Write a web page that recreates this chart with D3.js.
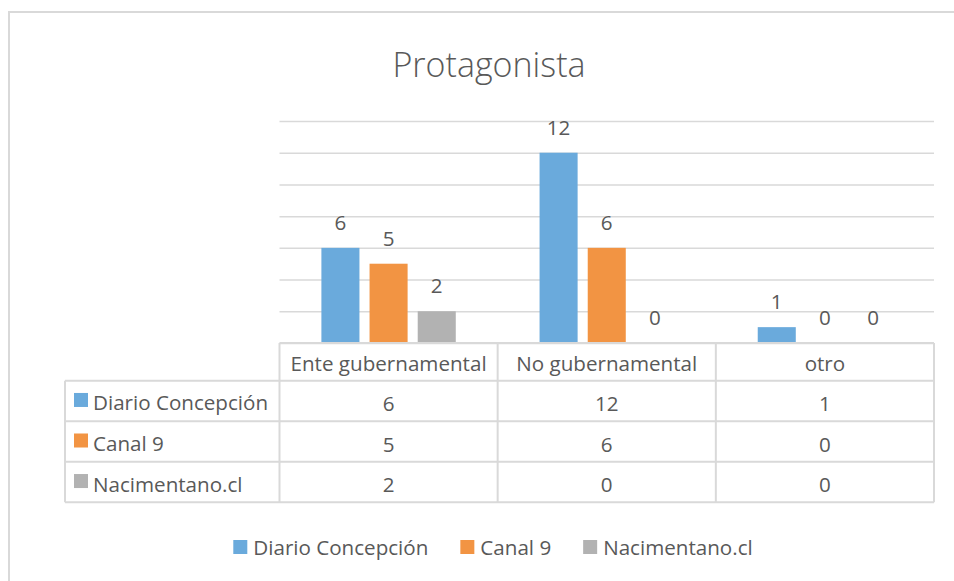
<!DOCTYPE html>
<html>
<head>
<meta charset="utf-8">
<script src="https://cdn.jsdelivr.net/npm/d3@7"></script>
<style>
  body { margin: 0; background: #fff; }
  svg { display: block; font-family: "Open Sans", "Noto Sans", sans-serif; }
</style>
</head>
<body>
<div id="chart"></div>
<script>
// data
const categories = ['Ente gubernamental', 'No gubernamental', 'otro'];
const seriesNames = ['Diario Concepción', 'Canal 9', 'Nacimentano.cl'];
const diarioConcepcion = [6, 12, 1];
const canal9 = [5, 6, 0];
const nacimentano = [2, 0, 0];
const seriesValues = [diarioConcepcion, canal9, nacimentano];
const colors = ['#6aaadc', '#f29443', '#b2b2b2'];
const yTicks = [0, 2, 4, 6, 8, 10, 12, 14];

const width = 954, height = 581;
const textColor = '#595959';
const lineColor = '#d9d9d9';
const fontSize = 20.6;

const svg = d3.select('#chart').append('svg')
    .attr('width', width)
    .attr('height', height);

// chart border (only top and left visible)
svg.append('rect')
    .attr('x', 9).attr('y', 12)
    .attr('width', 1000).attr('height', 700)
    .attr('fill', '#fff')
    .attr('stroke', lineColor)
    .attr('stroke-width', 2);

// title
svg.append('text')
    .attr('x', 489).attr('y', 77)
    .attr('text-anchor', 'middle')
    .attr('fill', textColor)
    .style('font-size', '34px')
    .style('font-weight', 300)
    .text('Protagonista');

// scales
const plot = {left: 279.5, right: 934, top: 121, bottom: 343};

const x0 = d3.scaleBand()
    .domain(categories)
    .range([plot.left, plot.right]);

const x1 = d3.scaleBand()
    .domain(seriesNames)
    .range([0, x0.bandwidth()])
    .paddingInner(0.21)
    .paddingOuter(0.87);

const y = d3.scaleLinear()
    .domain([0, 14])
    .range([plot.bottom, plot.top]);

// gridlines
const grid = svg.append('g')
    .attr('transform', `translate(${plot.left},0)`)
    .call(d3.axisLeft(y).tickValues(yTicks).tickSize(-(plot.right - plot.left)).tickFormat(''));
grid.select('.domain').remove();
grid.selectAll('.tick line')
    .attr('stroke', lineColor)
    .attr('stroke-width', 1.5);

// bars
const groups = svg.append('g').selectAll('g')
    .data(categories)
    .join('g')
    .attr('transform', d => `translate(${x0(d)},0)`);

groups.selectAll('rect')
    .data((c, ci) => seriesNames.map((s, si) => ({s, si, v: seriesValues[si][ci]})))
    .join('rect')
    .attr('x', d => x1(d.s))
    .attr('width', x1.bandwidth())
    .attr('y', d => y(d.v))
    .attr('height', d => y(0) - y(d.v))
    .attr('fill', d => colors[d.si]);

// data labels
groups.selectAll('text')
    .data((c, ci) => seriesNames.map((s, si) => ({s, si, v: seriesValues[si][ci]})))
    .join('text')
    .attr('x', d => x1(d.s) + x1.bandwidth() / 2)
    .attr('y', d => y(d.v) - 18)
    .attr('text-anchor', 'middle')
    .attr('fill', textColor)
    .style('font-size', fontSize + 'px')
    .text(d => d.v);

// data table
const table = {left: 65, headerTop: 343, headerBottom: 380.7, bottom: 502.3};
const rowY = d3.scaleBand()
    .domain(seriesNames)
    .range([table.headerBottom, table.bottom]);

const t = svg.append('g').attr('class', 'data-table');

// horizontal lines
t.append('line')
    .attr('x1', plot.left).attr('x2', plot.right)
    .attr('y1', table.headerTop).attr('y2', table.headerTop);
t.selectAll('.hline')
    .data(seriesNames)
    .join('line')
    .attr('class', 'hline')
    .attr('x1', table.left).attr('x2', plot.right)
    .attr('y1', d => rowY(d)).attr('y2', d => rowY(d));
t.append('line')
    .attr('x1', table.left).attr('x2', plot.right)
    .attr('y1', table.bottom).attr('y2', table.bottom);

// vertical lines
t.append('line')
    .attr('x1', table.left).attr('x2', table.left)
    .attr('y1', table.headerBottom).attr('y2', table.bottom);
t.selectAll('.vline')
    .data(categories)
    .join('line')
    .attr('class', 'vline')
    .attr('x1', d => x0(d)).attr('x2', d => x0(d))
    .attr('y1', table.headerTop).attr('y2', table.bottom);
t.append('line')
    .attr('x1', plot.right).attr('x2', plot.right)
    .attr('y1', table.headerTop).attr('y2', table.bottom);

t.selectAll('line')
    .attr('stroke', lineColor)
    .attr('stroke-width', 2);

// header labels
t.selectAll('.head')
    .data(categories)
    .join('text')
    .attr('class', 'head')
    .attr('x', d => x0(d) + x0.bandwidth() / 2)
    .attr('y', (table.headerTop + table.headerBottom) / 2 + 9.5)
    .attr('text-anchor', 'middle')
    .attr('fill', textColor)
    .style('font-size', fontSize + 'px')
    .text(d => d);

// row keys and names
seriesNames.forEach((s, si) => {
  const cy = rowY(s) + rowY.bandwidth() / 2;
  t.append('rect')
      .attr('x', 74).attr('y', cy - 8)
      .attr('width', 14).attr('height', 14)
      .attr('fill', colors[si]);
  t.append('text')
      .attr('x', 93).attr('y', cy + 9.5)
      .attr('fill', textColor)
      .style('font-size', fontSize + 'px')
      .text(s);
  t.selectAll('.val' + si)
      .data(seriesValues[si])
      .join('text')
      .attr('class', 'val' + si)
      .attr('x', (d, i) => x0(categories[i]) + x0.bandwidth() / 2)
      .attr('y', cy + 10)
      .attr('text-anchor', 'middle')
      .attr('fill', textColor)
      .style('font-size', fontSize + 'px')
      .text(d => d);
});

// legend
const legend = svg.append('g');
const items = legend.selectAll('g')
    .data(seriesNames)
    .join('g');
items.append('rect')
    .attr('y', 540)
    .attr('width', 14).attr('height', 14)
    .attr('fill', (d, i) => colors[i]);
items.append('text')
    .attr('x', 20)
    .attr('y', 555)
    .attr('fill', textColor)
    .style('font-size', fontSize + 'px')
    .text(d => d);

let offset = 0;
const positions = [];
items.each(function() {
  const w = d3.select(this).select('text').node().getComputedTextLength();
  positions.push(offset);
  offset += 20 + w + 32;
});
const legendWidth = offset - 32;
const legendStart = 493 - legendWidth / 2;
items.attr('transform', (d, i) => `translate(${legendStart + positions[i]},0)`);
</script>
</body>
</html>
